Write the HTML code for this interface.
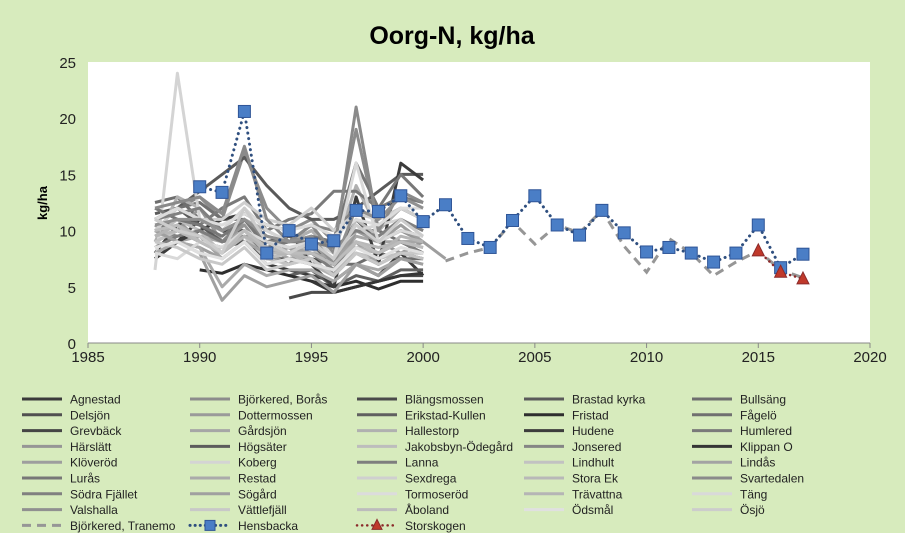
<!DOCTYPE html>
<html><head><meta charset="utf-8"><style>
body{margin:0;background:#d7ebbd;font-family:"Liberation Sans",sans-serif;}
#wrap{position:relative;width:905px;height:533px;overflow:hidden;background:#d7ebbd;}
</style></head><body>
<div id="wrap">
<svg id="chart" width="905" height="533"></svg>
</div>
<script>
const years=[1988,1989,1990,1991,1992,1993,1994,1995,1996,1997,1998,1999,2000,2001];
const seriesNames=["Agnestad","Björkered, Borås","Blängsmossen","Brastad kyrka","Bullsäng","Delsjön","Dottermossen","Erikstad-Kullen","Fristad","Fågelö","Grevbäck","Gårdsjön","Hallestorp","Hudene","Humlered","Härslätt","Högsäter","Jakobsbyn-Ödegård","Jonsered","Klippan O","Klöveröd","Koberg","Lanna","Lindhult","Lindås","Lurås","Restad","Sexdrega","Stora Ek","Svartedalen","Södra Fjället","Sögård","Tormoseröd","Trävattna","Täng","Valshalla","Vättlefjäll","Åboland","Ödsmål","Ösjö"];
const seriesColors=["#3a3a3a","#8c8c8c","#4a4a4a","#5a5a5a","#6e6e6e","#505050","#9a9a9a","#606060","#2e2e2e","#707070","#454545","#a6a6a6","#b0b0b0","#3c3c3c","#7a7a7a","#969696","#5c5c5c","#bdbdbd","#858585","#353535","#9e9e9e","#d4d4d4","#7e7e7e","#c2c2c2","#a3a3a3","#777777","#aaaaaa","#cfcfcf","#b8b8b8","#8a8a8a","#808080","#a0a0a0","#dcdcdc","#b5b5b5","#d9d9d9","#909090","#c8c8c8","#bcbcbc","#e0e0e0","#cccccc"];
const seriesValues=[
[7.5,9,11,10,9,7,6.5,6,5.5,7,6,8,6,null],
[11,12,13,11,17,12,10,11,9,19,10,12,11,null],
[null,null,null,null,null,null,4,4.5,4.5,5,5.5,6,6,null],
[11.5,12,13.5,15,16.5,14,12,11,11,12,13.5,15,15,null],
[12.5,13,11,10,9,8.5,7.5,8,7,7,8,7.5,7.5,null],
[9,10,9,8.5,9,7.5,7.5,7,6,8,7,8,7.5,null],
[10,11,9,8,11,9,8.5,7,7.5,10,9,8,9,null],
[null,null,null,null,null,null,6,6.5,5,6,5.5,6.5,6.5,null],
[null,null,6.5,6.2,7,6.5,6,5.5,5,5.5,4.8,5.5,5.5,null],
[11,12,12.5,11,11,9,9,10,8.5,10,10,9,9,null],
[8,10.5,11,10,10,9,8,7.5,7,8.5,8,9,8,null],
[10,9,9.5,9,10,8.5,7.5,8,7,9.5,9,9,9,null],
[9,13,12,10,11,10,9,10,8,14,10,12,11,null],
[7.5,9,10,11,11.5,10.5,10,7,5,13,7,16,14.5,null],
[10,11,10.5,12,13,10,11,11.5,13.5,13.5,12,13,12.5,null],
[9,10,12,9,10.5,8,7,9,6,10,9,10,9,null],
[11,12,10.5,9,9.5,9,9.5,8.5,7,11,9,10,9.5,null],
[9.5,11,10,8,9.5,7.5,8,8.5,6.5,11,9.5,11,10,null],
[10,9.5,10,9,11,9,9,10.5,10,12,11,12,11,null],
[null,null,null,null,null,null,null,5.5,4.5,5,5.5,6,6.2,null],
[10.5,9,8.5,7.5,9,8,8,9,7,10,9,10.5,9,7.5],
[6.5,24,11,10,12,10,9,9,8,10,10.5,11,10,null],
[8.5,9.5,10,9,9.5,8,8.5,8,6.5,9,8,9,8,null],
[9,10,9,8,9.5,7.5,7,7.5,6,8,7.5,8,7.5,null],
[11,10,9.5,7.5,9,8,8.5,8,7.5,9,7,8,8,null],
[12,11,10.5,9.5,11,8.5,9,9.5,9,16,12,15,13,null],
[8,9,8.5,5,7,6,6.5,6.5,5.5,7,6.5,7.5,7,null],
[10,12,11,11,12.5,11,10.5,12,10,11.5,11,12,11,null],
[9.5,10,9,8.5,10,8,8,7.5,6,9,8.5,9,8.5,null],
[12,12.5,13,11.5,17.5,11,9,10.5,8,21,10,13.5,12.5,null],
[11,11.5,12,10,11,9.5,9,9,8.5,10,9.5,11,10,null],
[10,9,8,3.8,6,5,5.5,6,4.5,7,6,7.5,7,null],
[11,12,11,10.5,11.5,10.5,10,10.5,9.5,11,10.5,12,12,null],
[9.5,10.5,9.5,8,9.5,8.5,8,7,6,8.5,8,9.5,9,null],
[8,7.5,9,8.5,10,9,8.5,9,7.5,16,9,10,9.5,null],
[10.5,11,11,10,11,9.5,9,9.5,7,12,11,13,12,null],
[9,8.5,7.5,7,8.5,6.5,7,7.5,6,8,7,8,8,null],
[10,10.5,9,8,10,8.5,8,8,7,9,8,9,8.5,null],
[8.5,9,8,7.5,9,7,7.5,7,6.5,8.5,7.5,8.5,8,null],
[11,10,9.5,8,12,9,8,9,7.5,10.5,9,11,9.5,null]
];
const hensYears=[1990,1991,1992,1993,1994,1995,1996,1997,1998,1999,2000,2001,2002,2003,2004,2005,2006,2007,2008,2009,2010,2011,2012,2013,2014,2015,2016,2017];
const hensValues=[13.9,13.4,20.6,8.0,10.0,8.8,9.1,11.8,11.7,13.1,10.8,12.3,9.3,8.5,10.9,13.1,10.5,9.6,11.8,9.8,8.1,8.5,8.0,7.2,8.0,10.5,6.7,7.9];
const tranYears=[2001,2002,2003,2004,2005,2006,2007,2008,2009,2010,2011,2012,2013,2014,2015,2016,2017];
const tranValues=[7.3,8.0,8.5,10.8,8.8,10.5,9.8,11.8,8.6,6.3,9.3,8.0,6.0,7.2,8.2,6.5,5.8];
const storYears=[2015,2016,2017];
const storValues=[8.2,6.3,5.7];
const xTicks=[1985,1990,1995,2000,2005,2010,2015,2020];
const yTicks=[0,5,10,15,20,25];

const NS="http://www.w3.org/2000/svg";
const svg=document.getElementById('chart');
const L=88,R=870,T=62,B=343;
function xs(v){return L+(v-1985)/35*(R-L);}
function ys(v){return B-v/25*(B-T);}
function mk(tag,attrs,parent){const e=document.createElementNS(NS,tag);for(const k in attrs)e.setAttribute(k,attrs[k]);(parent||svg).appendChild(e);return e;}

let t=mk('text',{x:452,y:44,'text-anchor':'middle','font-size':25,'font-weight':'bold',fill:'#000'});
t.textContent="Oorg-N, kg/ha";


let pa=mk('rect',{x:L,y:T,width:R-L,height:B-T,fill:'#fff'});


let ax=mk('line',{x1:L,y1:B,x2:R,y2:B,stroke:'#888','stroke-width':1});


yTicks.forEach(v=>{
  const tx=mk('text',{x:L-12,y:ys(v)+6,'text-anchor':'end','font-size':15,fill:'#222'});
  tx.textContent=v;
  
  
});
xTicks.forEach(v=>{
  const tl=mk('line',{x1:xs(v),y1:B,x2:xs(v),y2:B+5,stroke:'#888'});
  
  
  const tx=mk('text',{x:xs(v),y:B+19,'text-anchor':'middle','font-size':15,fill:'#222'});
  tx.textContent=v;
  
  
});
let yt=mk('text',{x:0,y:0,transform:'translate(47,203) rotate(-90)','text-anchor':'middle','font-size':13,'font-weight':'bold',fill:'#000'});
yt.textContent="kg/ha";



function pathFrom(xsArr,vals){let d='',pen=false;vals.forEach((v,i)=>{if(v==null){pen=false;return;}d+=(pen?'L':'M')+xs(xsArr[i]).toFixed(1)+','+ys(v).toFixed(1);pen=true;});return d;}
seriesValues.forEach((vals,i)=>{
  const p=mk('path',{d:pathFrom(years,vals),fill:'none',stroke:seriesColors[i],'stroke-width':3,'stroke-linejoin':'round'});
  
  
});
let tp=mk('path',{d:pathFrom(tranYears,tranValues),fill:'none',stroke:'#969696','stroke-width':3,'stroke-dasharray':'9,6'});


let sp=mk('path',{d:pathFrom(storYears,storValues),fill:'none',stroke:'#8b2a2a','stroke-width':2.5,'stroke-dasharray':'0.1,5','stroke-linecap':'round'});


let hp=mk('path',{d:pathFrom(hensYears,hensValues),fill:'none',stroke:'#2f4f7f','stroke-width':3,'stroke-dasharray':'0.1,5.5','stroke-linecap':'round'});


hensValues.forEach((v,i)=>{
  const r=mk('rect',{x:xs(hensYears[i])-6,y:ys(v)-6,width:12,height:12,fill:'#4a7ec6',stroke:'#2f5597','stroke-width':1});
  
  
});
storValues.forEach((v,i)=>{
  const x=xs(storYears[i]),y=ys(v);
  const p=mk('polygon',{points:`${x},${y-7} ${x+6},${y+5} ${x-6},${y+5}`,fill:'#c0392b',stroke:'#8b2a2a','stroke-width':1});
  
  
});

const colX=[22,190,357,524,692],rowY0=399,rowH=15.8;
const allLegend=seriesNames.map((n,i)=>({n,c:seriesColors[i],k:'solid'})).concat([{n:"Björkered, Tranemo",c:'#969696',k:'dash'},{n:"Hensbacka",c:'#2f4f7f',k:'hens'},{n:"Storskogen",c:'#8b2a2a',k:'stor'}]);
allLegend.forEach((it,i)=>{
  const col=i%5,row=Math.floor(i/5);
  const x=colX[col],y=rowY0+row*rowH;
  const g=mk('g',{});
  
  
  if(it.k==='solid')mk('line',{x1:x,y1:y,x2:x+40,y2:y,stroke:it.c,'stroke-width':3},g);
  else if(it.k==='dash')mk('line',{x1:x,y1:y,x2:x+40,y2:y,stroke:it.c,'stroke-width':3,'stroke-dasharray':'9,6'},g);
  else if(it.k==='hens'){mk('line',{x1:x,y1:y,x2:x+40,y2:y,stroke:it.c,'stroke-width':3,'stroke-dasharray':'0.1,5','stroke-linecap':'round'},g);mk('rect',{x:x+15,y:y-5,width:10,height:10,fill:'#4a7ec6',stroke:'#2f5597'},g);}
  else {mk('line',{x1:x,y1:y,x2:x+40,y2:y,stroke:it.c,'stroke-width':2.5,'stroke-dasharray':'0.1,5','stroke-linecap':'round'},g);mk('polygon',{points:`${x+20},${y-6} ${x+25},${y+4} ${x+15},${y+4}`,fill:'#c0392b',stroke:'#8b2a2a'},g);}
  const tx=mk('text',{x:x+48,y:y+4.5,'font-size':12,fill:'#222'},g);
  tx.textContent=it.n;
});
</script>
</body></html>
